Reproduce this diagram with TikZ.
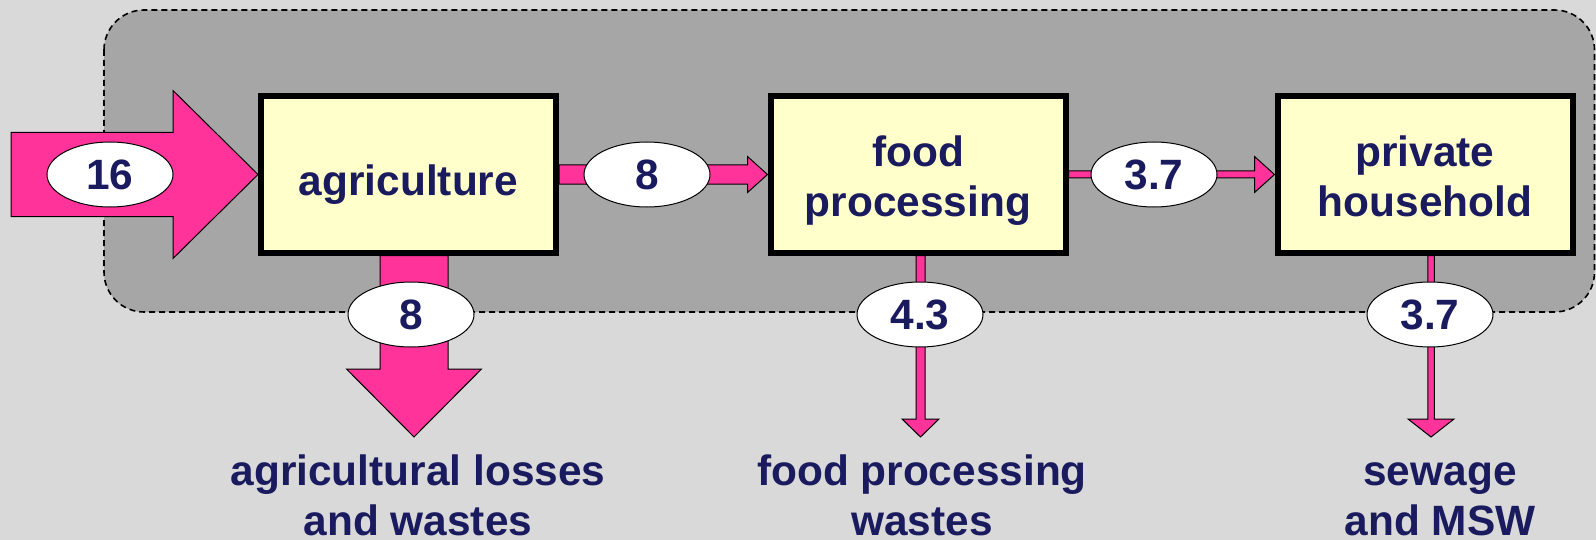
\documentclass[tikz,border=0pt]{standalone}
\usepackage{fontspec}
\setmainfont{Liberation Sans}
\usetikzlibrary{calc,shapes.geometric}

\definecolor{pagegray}{RGB}{217,217,217}
\definecolor{zonegray}{RGB}{166,166,166}
\definecolor{flowpink}{RGB}{255,51,153}
\definecolor{boxyellow}{RGB}{255,255,204}
\definecolor{inknavy}{RGB}{26,26,94}

\pgfdeclarelayer{back}
\pgfdeclarelayer{flows}
\pgfsetlayers{back,flows,main}

% horizontal block arrow: tail, tip, shaft half-height, head half-height, head length
\newcommand\hflow[5]{%
  \draw[flow] ($(#1)+(0,-#3)$) -- ($(#2)+(-#5,-#3)$) -- ($(#2)+(-#5,-#4)$)
    -- (#2) -- ($(#2)+(-#5,#4)$) -- ($(#2)+(-#5,#3)$) -- ($(#1)+(0,#3)$) -- cycle;}
% downward block arrow: tail, tip, shaft half-width, head half-width, head length
\newcommand\vflow[5]{%
  \draw[flow] ($(#1)+(-#3,0)$) -- ($(#2)+(-#3,-#5)$) -- ($(#2)+(-#4,-#5)$)
    -- (#2) -- ($(#2)+(#4,-#5)$) -- ($(#2)+(#3,-#5)$) -- ($(#1)+(#3,0)$) -- cycle;}

\begin{document}
\begin{tikzpicture}[x=0.5pt,y=-0.5pt,
  every node/.style={font=\fontsize{21.2}{25}\selectfont\bfseries, text=inknavy},
  stage/.style={draw=black, line width=3pt, fill=boxyellow,
    minimum width=147.5pt, minimum height=78pt, align=center, inner sep=0pt},
  oneline/.style={text height=20.5pt, text depth=0pt},
  twoline/.style={text height=42pt, text depth=0pt},
  amount/.style={ellipse, draw=black, line width=0.5pt, fill=white,
    minimum width=63pt, minimum height=32.5pt, inner sep=0pt},
  sink/.style={align=center, anchor=north, inner sep=0pt},
  flow/.style={fill=flowpink, draw=black, line width=0.5pt, line join=miter},
  zone/.style={fill=zonegray, draw=black, line width=0.8pt,
    dash pattern=on 3pt off 2pt, rounded corners=20pt}]

\useasboundingbox (0,0) rectangle (1596,540);

% page and the dashed system boundary
\begin{pgfonlayer}{back}
  \fill[pagegray] (0,0) rectangle (1596,540);
  \path[zone] (104,10) rectangle (1594.5,312);
\end{pgfonlayer}

% process stages
\node[stage, oneline] (agri)  at (408.5,174.5) {agriculture};
\node[stage, twoline] (food)  at (918,174.5)   {food\\processing};
\node[stage, twoline] (house) at (1425,174.5)  {private\\household};

% free ends of the flows
\coordinate (src)      at (11,174.5);
\coordinate (agriout)  at (414,437);
\coordinate (foodout)  at (920.5,437);
\coordinate (houseout) at (1431,437);
\coordinate (agribase)  at (agri.south -| agriout);
\coordinate (foodbase)  at (food.south -| foodout);
\coordinate (housebase) at (house.south -| houseout);

% mass flows
\begin{pgfonlayer}{flows}
  \hflow{src}{agri.west}{42}{84}{85}
  \hflow{agri.east}{food.west}{9.5}{18}{20}
  \hflow{food.east}{house.west}{3.5}{18}{20}
  \vflow{agribase}{agriout}{34}{67.5}{68}
  \vflow{foodbase}{foodout}{4.5}{18.5}{18}
  \vflow{housebase}{houseout}{3.25}{23}{18}
\end{pgfonlayer}

% flow amounts
\node[amount] (q16)  at (110,174.5)  {16};
\node[amount] (q8a)  at (647,174.5)  {8};
\node[amount] (q37a) at (1154,174.5) {3.7};
\node[amount] (q8b)  at (411,314.5)  {8};
\node[amount] (q43)  at (920,314.5)  {4.3};
\node[amount] (q37b) at (1430,314.5) {3.7};

% destinations
\node[sink] (agriwaste)  at (418,450)  {\strut agricultural losses\\and wastes};
\node[sink] (foodwaste)  at (922,450)  {\strut food processing\\wastes};
\node[sink] (housewaste) at (1440,450) {\strut sewage\\and MSW};
\end{tikzpicture}
\end{document}
